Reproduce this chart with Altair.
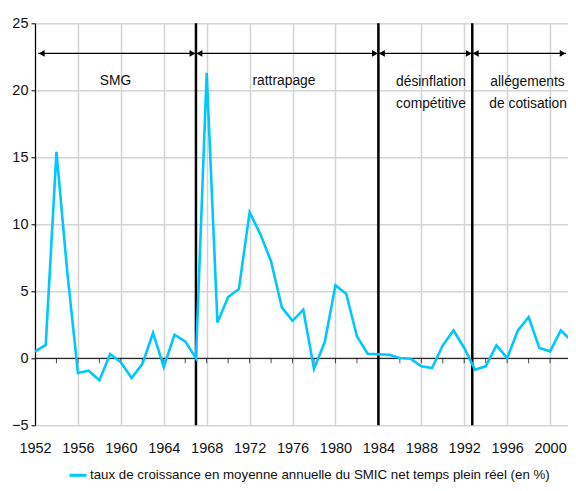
import altair as alt
import pandas as pd

years = list(range(1952, 2003))
values = [0.5, 1.0, 15.4, 6.5, -1.1, -0.93, -1.65, 0.32, -0.3, -1.47,
          -0.43, 1.89, -0.65, 1.76, 1.26, 0.0, 21.3, 2.68, 4.57, 5.17,
          10.89, 9.27, 7.23, 3.8, 2.8, 3.63, -0.78, 1.21, 5.44, 4.82,
          1.64, 0.34, 0.3, 0.27, 0.02, -0.03, -0.6, -0.73, 0.97, 2.08,
          0.77, -0.85, -0.6, 0.97, 0.02, 2.08, 3.08, 0.77, 0.52, 2.08, 1.31]
series_name = "taux de croissance en moyenne annuelle du SMIC net temps plein réel (en %)"

# period boundaries (vertical black lines)
boundaries = [1967, 1984, 1992.75]
# arrow segments
seg_start = [1952.3, 1967, 1984, 1992.75]
seg_end = [1967, 1984, 1992.75, 2001.5]
arrow_level = 22.75
# period labels
label_text = ["SMG", "rattrapage", "désinflation", "compétitive", "allégements", "de cotisation"]
label_x = [1959.5, 1975.2, 1988.9, 1988.9, 1997.9, 1997.95]
label_y = [20.66, 20.66, 20.6, 18.95, 20.6, 18.95]

tick_years = list(range(1954, 2001, 2))

FONT = "Liberation Sans"

df = pd.DataFrame({"year": years, "value": values, "serie": [series_name] * len(years)})
xscale = alt.Scale(domain=[1952, 2001.67], nice=False, zero=False)
yscale = alt.Scale(domain=[-5, 25], nice=False)

base_x = alt.X("year:Q", scale=xscale, title=None,
               axis=alt.Axis(values=list(range(1952, 2001, 2)), format="d",
                             labelExpr="datum.value % 4 == 0 ? datum.label : ''",
                             grid=True, gridColor="#d4d4d4", gridWidth=1.5,
                             ticks=False, domain=False, labelPadding=16,
                             labelFont=FONT, labelFontSize=14.5, labelColor="#111",
                             labelFlush=False, labelOverlap=False))
base_y = alt.Y("value:Q", scale=yscale, title=None,
               axis=alt.Axis(values=[-5, 0, 5, 10, 15, 20, 25], grid=True,
                             gridColor="#d4d4d4", gridWidth=1.5,
                             domainColor="#000", domainWidth=1.2,
                             tickColor="#000", tickSize=4, labelPadding=3,
                             labelFont=FONT, labelFontSize=14.5, labelColor="#111"))

line = alt.Chart(df).mark_line(strokeWidth=2.6, clip=True).encode(
    x=base_x, y=base_y,
    color=alt.Color("serie:N", scale=alt.Scale(range=["#00c8ff"]),
                    legend=alt.Legend(title=None, orient="none", legendX=33, legendY=442,
                                      symbolType="stroke", symbolSize=289,
                                      symbolStrokeWidth=3, labelFont=FONT,
                                      labelFontSize=13.3, labelColor="#111",
                                      labelLimit=1000, labelOffset=2, padding=0)))

zero_df = pd.DataFrame({"v": [0]})
zero = alt.Chart(zero_df).mark_rule(color="#000", strokeWidth=1).encode(
    y=alt.Y("v:Q", scale=yscale))

ticks_df = pd.DataFrame({"year": tick_years, "v": [0] * len(tick_years)})
ticks = alt.Chart(ticks_df).mark_tick(orient="vertical", size=5, thickness=1,
                                      color="#000", yOffset=2.5).encode(
    x=alt.X("year:Q", scale=xscale), y=alt.Y("v:Q", scale=yscale))

bnd_df = pd.DataFrame({"year": boundaries})
bnd = alt.Chart(bnd_df).mark_rule(color="#000", strokeWidth=2.5).encode(
    x=alt.X("year:Q", scale=xscale))

seg_df = pd.DataFrame({"s": seg_start, "e": seg_end, "y": [arrow_level] * 4})
segs = alt.Chart(seg_df).mark_rule(color="#000", strokeWidth=1.3).encode(
    x=alt.X("s:Q", scale=xscale), x2="e:Q", y=alt.Y("y:Q", scale=yscale))
left_heads = alt.Chart(seg_df).mark_point(shape="triangle-left", filled=True, size=45,
                                          color="#000", opacity=1, xOffset=3.5).encode(
    x=alt.X("s:Q", scale=xscale), y=alt.Y("y:Q", scale=yscale))
right_heads = alt.Chart(seg_df).mark_point(shape="triangle-right", filled=True, size=45,
                                           color="#000", opacity=1, xOffset=-3.5).encode(
    x=alt.X("e:Q", scale=xscale), y=alt.Y("y:Q", scale=yscale))

lab_df = pd.DataFrame({"t": label_text, "x": label_x, "y": label_y})
labels = alt.Chart(lab_df).mark_text(font=FONT, fontSize=13.8, color="#111",
                                     align="center", baseline="middle").encode(
    x=alt.X("x:Q", scale=xscale), y=alt.Y("y:Q", scale=yscale), text="t:N")

chart = alt.layer(zero, ticks, bnd, segs, left_heads, right_heads, labels, line).properties(
    width=533, height=402,
    autosize=alt.AutoSizeParams(type="none"),
    padding={"left": 27, "top": 15.3, "right": 0, "bottom": 57.7},
).configure_view(stroke=None)

chart.save("out.html", embed_options={"renderer": "svg", "actions": False})
